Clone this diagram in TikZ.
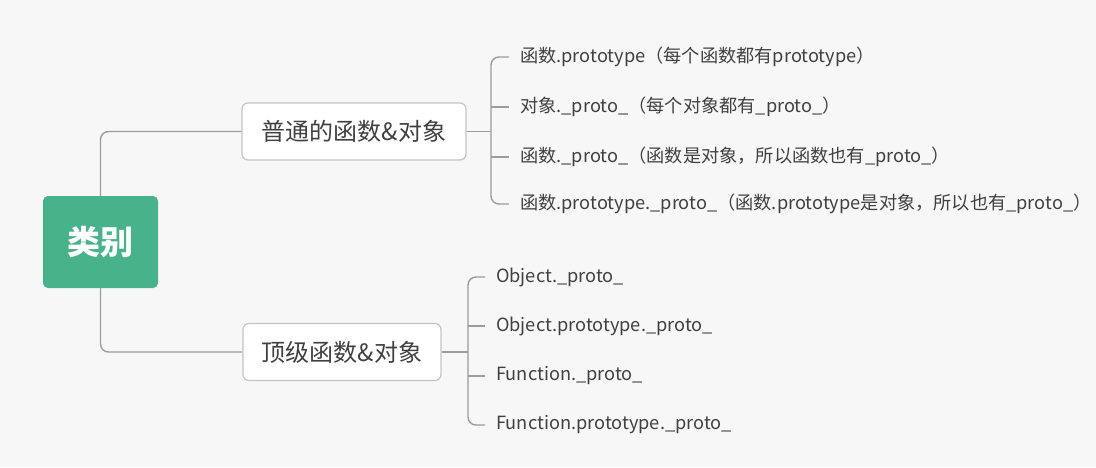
\documentclass[tikz,border=0pt]{standalone}
\usepackage{fontspec}
\setmainfont{Noto Sans CJK SC}
\definecolor{bgcol}{HTML}{F7F7F7}
\definecolor{rootgreen}{HTML}{48B28A}
\definecolor{linecol}{HTML}{9C9C9C}
\definecolor{boxline}{HTML}{C4C4C4}
\definecolor{txt}{HTML}{404040}
\begin{document}
\begin{tikzpicture}[x=1pt,y=-1pt,
  rootbox/.style={fill=rootgreen, draw=none, rounded corners=5pt, minimum width=115pt, minimum height=92pt,
    text=white, font=\fontsize{33}{38}\selectfont\bfseries, inner sep=0pt},
  catbox/.style={fill=white, draw=boxline, line width=1.2pt, rounded corners=6pt, minimum height=57pt,
    text=txt, font=\fontsize{24}{28}\selectfont, inner sep=0pt},
  leaf/.style={anchor=west, inner xsep=11pt, inner ysep=0pt, text=txt, font=\fontsize{18.2}{21}\selectfont},
  conn/.style={draw=linecol, line width=1.4pt, rounded corners=8pt}
]
\fill[bgcol] (0,0) rectangle (1096,467);
\useasboundingbox (0,0) rectangle (1096,467);

\node[rootbox] (root) at (100.5,242) {类别};
\node[catbox, minimum width=224pt] (b1) at (354,131.5) {普通的函数\&对象};
\node[catbox, minimum width=198pt] (b2) at (342,352) {顶级函数\&对象};

\draw[conn] (root.north) |- (b1.west);
\draw[conn] (root.south) |- (b2.west);

% branch 1
\coordinate (j1) at (491,131.5);
\node[leaf] (a1) at (509,57) {函数.prototype（每个函数都有prototype）};
\node[leaf] (a2) at (509,107) {对象.\_proto\_（每个对象都有\_proto\_）};
\node[leaf] (a3) at (509,157) {函数.\_proto\_（函数是对象，所以函数也有\_proto\_）};
\node[leaf] (a4) at (509,204) {函数.prototype.\_proto\_（函数.prototype是对象，所以也有\_proto\_）};
\draw[conn] (b1.east) -- (j1);
\draw[conn] (a1.west) -| (j1);
\draw[conn] (a4.west) -| (j1);
\draw[conn] (a2.west) -- (a2.west -| j1);
\draw[conn] (a3.west) -- (a3.west -| j1);

% branch 2
\coordinate (j2) at (468,352);
\node[leaf] (o1) at (485,277) {Object.\_proto\_};
\node[leaf] (o2) at (485,326) {Object.prototype.\_proto\_};
\node[leaf] (o3) at (485,376) {Function.\_proto\_};
\node[leaf] (o4) at (485,425) {Function.prototype.\_proto\_};
\draw[conn] (b2.east) -- (j2);
\draw[conn] (o1.west) -| (j2);
\draw[conn] (o4.west) -| (j2);
\draw[conn] (o2.west) -- (o2.west -| j2);
\draw[conn] (o3.west) -- (o3.west -| j2);
\end{tikzpicture}
\end{document}
